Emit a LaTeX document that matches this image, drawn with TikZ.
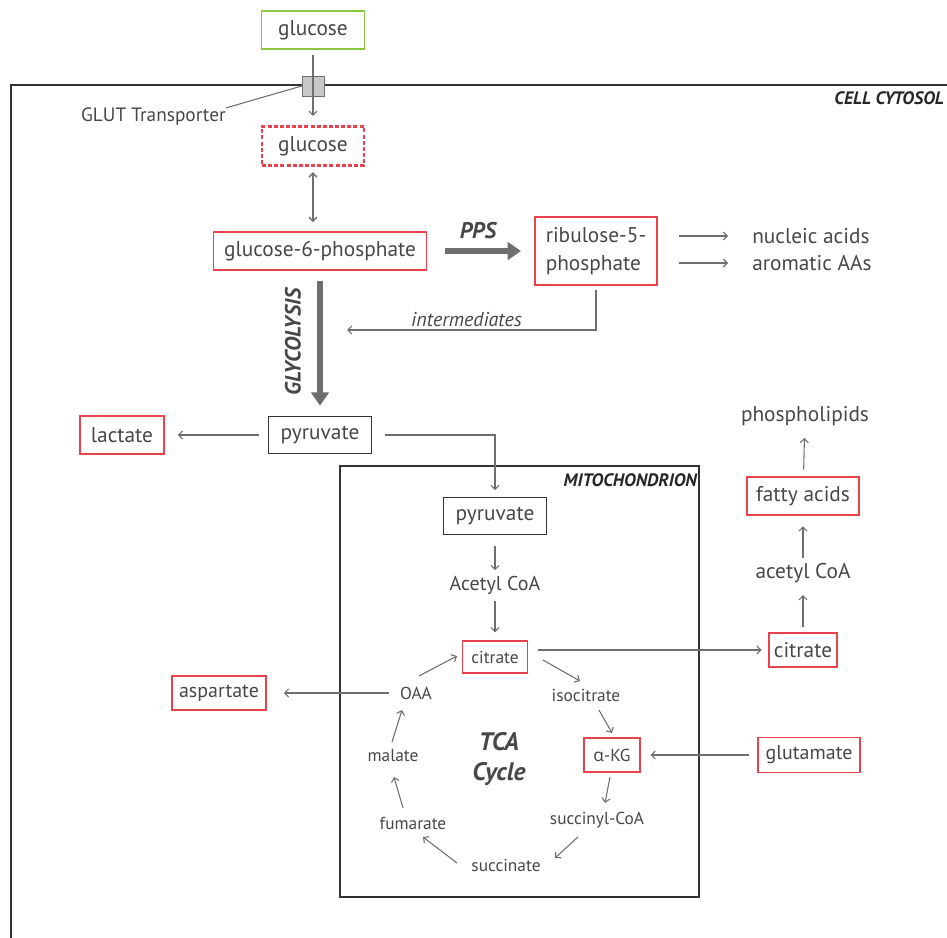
\documentclass[tikz,border=0pt]{standalone}
\usepackage{fontspec}
\setmainfont{PT Sans}
\newfontfamily\greekfont{Open Sans}
\usetikzlibrary{arrows.meta}
\definecolor{ink}{HTML}{474747}
\definecolor{wire}{HTML}{6E6E6E}
\definecolor{metred}{HTML}{E8424C}
\definecolor{outgreen}{HTML}{8DC63F}
\newcommand{\fsz}[2]{\fontsize{#1}{#2}\selectfont}

\begin{document}
\begin{tikzpicture}[x=0.75pt,y=-0.75pt,
    every node/.style={text=ink,font=\fsz{16}{19},inner sep=0pt},
    metbox/.style={draw=metred,line width=0.9pt},
    pyrbox/.style={draw=black!80,line width=0.9pt,minimum width=77pt,minimum height=28pt},
    tcanode/.style={font=\fsz{13}{15}},
    regionname/.style={font=\fsz{13.5}{16}\bfseries\itshape,text=black!85},
    pathname/.style={font=\fsz{17}{20}\bfseries\itshape},
    conn/.style={draw=wire,line width=0.8pt,-{Straight Barb[length=3pt,width=6pt]}},
    fatarrow/.style={draw=wire,line width=5pt,-{Triangle[length=10pt,width=13pt]}}]
  \useasboundingbox (0,0) rectangle (947,938);
  \clip (0,0) rectangle (947,938);
  % compartments
  \draw[line width=0.8pt,black!80] (11,960) |- (960,85);
  \draw[line width=0.8pt,black!80] (340,466) rectangle (699,897);
  \node[regionname,anchor=north east] (cytlbl) at (944,91) {CELL CYTOSOL};
  \node[regionname,anchor=north east] (mitolbl) at (697,473) {MITOCHONDRION};

  % glucose uptake
  \node[draw=outgreen,line width=0.9pt,minimum width=77pt,minimum height=28.5pt] (glcout) at (313,30) {glucose};
  \node[draw=wire,fill=black!22,minimum width=16.5pt,minimum height=15pt] (glut) at (313,86) {};
  \node[font=\fsz{14.5}{17},anchor=east] (gluttxt) at (226,117) {GLUT Transporter};
  \draw[wire,line width=0.8pt] (gluttxt.north east) -- (glut.west);
  \node[draw=metred,line width=2.2pt,dash pattern=on 3pt off 1.6pt,minimum width=76.5pt,minimum height=29pt] (glcin) at (313,146) {glucose};
  \draw[conn,shorten <=4pt,shorten >=7pt] (glcout) -- (glcin);

  % glycolysis and pentose phosphate
  \node[metbox,minimum width=160pt,minimum height=28.5pt] (g6p) at (320,251) {glucose-6-phosphate};
  \draw[conn,{Straight Barb[length=3pt,width=6pt]}-{Straight Barb[length=3pt,width=6pt]},line width=1pt,shorten <=4pt,shorten >=7pt] (glcin) -- (glcin |- g6p.north);
  \node[metbox,minimum width=91.5pt,minimum height=51pt,align=left,font=\fsz{16}{21}] (ribu) at (596,251) {ribulose-5-\\phosphate};
  \draw[fatarrow,shorten <=13pt,shorten >=10pt] (g6p) -- (ribu);
  \node[pathname] (ppslbl) at (478,231) {PPS};
  \node[anchor=west] (nuc) at (752,236) {nucleic acids};
  \node[anchor=west] (aro) at (752,263) {aromatic AAs};
  \draw[conn,shorten <=16pt,shorten >=18pt] (ribu.east |- nuc) -- (nuc.west);
  \draw[conn,shorten <=16pt,shorten >=18pt] (ribu.east |- aro) -- (aro.west);
  \coordinate (intend) at (347,330);
  \draw[conn,shorten <=3pt] (ribu.south) |- node[pos=0.76,above=2pt,font=\fsz{15}{18}\itshape] (intlbl) {intermediates} (intend);

  \node[pyrbox] (pyr) at (320,435) {pyruvate};
  \draw[fatarrow,shorten <=7.5pt,shorten >=7.5pt] (g6p) -- (pyr);
  \node[pathname,font=\fsz{16.5}{20}\bfseries\itshape,rotate=90] (glyclbl) at (293,342) {GLYCOLYSIS};
  \node[metbox,minimum width=63pt,minimum height=28.5pt] (lac) at (122,435) {lactate};
  \draw[conn,shorten <=7pt,shorten >=10pt] (pyr) -- (lac);

  % mitochondrion
  \node[pyrbox] (mpyr) at (495,516) {pyruvate};
  \draw[conn,shorten <=10pt,shorten >=5pt] (pyr.east) -| (mpyr.north);
  \node[font=\fsz{15}{18}] (acoa) at (495,585) {Acetyl CoA};
  \node[metbox,tcanode,minimum width=49pt,minimum height=24pt] (cit) at (495,657) {citrate};
  \draw[conn,shorten <=8pt,shorten >=4pt] (mpyr) -- (acoa);
  \draw[conn,shorten <=5pt,shorten >=6pt] (acoa) -- (cit);

  % TCA cycle
  \node[tcanode] (iso) at (586,695) {isocitrate};
  \node[metbox,tcanode,minimum width=42pt,minimum height=25.5pt] (akg) at (612,755) {{\greekfont α}-KG};
  \node[tcanode] (succoa) at (597,820) {succinyl-CoA};
  \node[tcanode] (succ) at (506,865) {succinate};
  \node[tcanode] (fum) at (413,823) {fumarate};
  \node[tcanode] (mal) at (393,756) {malate};
  \node[tcanode] (oaa) at (416,693) {OAA};
  \node[font=\fsz{19}{22}\bfseries\itshape,align=center] (tcalbl) at (499,759) {TCA\\Cycle};
  \foreach \a/\ax/\ay/\b/\bx/\by in {oaa/3/-17/cit/-38/-1, cit/48/3/iso/-6/-14,
      iso/13/15/akg/0/-22, akg/-2/22/succoa/8/-17, succoa/-19/17/succ/49/-7,
      succ/-49/-2/fum/10/14, fum/-10/-15/mal/1/21, mal/-1/-14/oaa/-14/17}
    \draw[conn] ([shift={(\ax,\ay)}]\a.center) -- ([shift={(\bx,\by)}]\b.center);

  % exits and entries
  \node[metbox,font=\fsz{15}{18},minimum width=70.5pt,minimum height=25.5pt] (asp) at (219,693) {aspartate};
  \draw[conn,shorten <=8pt,shorten >=13pt] (oaa) -- (asp);
  \node[metbox,font=\fsz{15}{18},minimum width=76.5pt,minimum height=26pt] (glu) at (809,755) {glutamate};
  \draw[conn,shorten <=6pt,shorten >=7.5pt] (glu) -- (akg);
  \node[metbox,minimum width=51pt,minimum height=25.5pt] (rcit) at (803,650) {citrate};
  \draw[conn,shorten <=7pt,shorten >=5pt] (cit.east |- rcit) -- (rcit.west);
  \node (racoa) at (803,573) {acetyl CoA};
  \node[metbox,minimum width=84pt,minimum height=28.5pt] (fatty) at (803,496) {fatty acids};
  \node (phos) at (805,416) {phospholipids};
  \draw[conn,shorten <=4pt,shorten >=9pt] (rcit) -- (racoa);
  \draw[conn,shorten <=4pt,shorten >=8pt] (racoa) -- (fatty);
  \draw[conn,shorten <=5pt,shorten >=9pt] (fatty) -- (phos);
\end{tikzpicture}
\end{document}
